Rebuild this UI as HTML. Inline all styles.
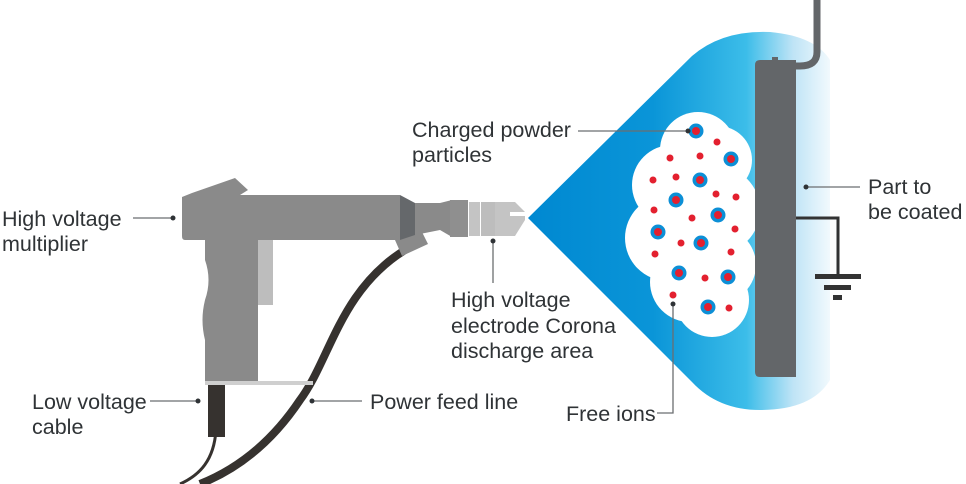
<!DOCTYPE html>
<html><head><meta charset="utf-8"><style>
html,body{margin:0;padding:0;background:#fff}
svg{display:block}
text{font-family:"Liberation Sans",sans-serif;font-size:21.5px;fill:#2f3336}
</style></head><body>
<svg width="966" height="484" viewBox="0 0 966 484" xmlns="http://www.w3.org/2000/svg">
<defs>
<linearGradient id="bl" x1="528" y1="0" x2="840" y2="0" gradientUnits="userSpaceOnUse">
<stop offset="0" stop-color="#0088d1"/>
<stop offset="0.4" stop-color="#0a95d8"/>
<stop offset="0.7" stop-color="#3cbde9"/>
<stop offset="0.85" stop-color="#bfe4f6"/>
<stop offset="1" stop-color="#ffffff"/>
</linearGradient>
</defs>
<path d="M528,218 L692,56 Q722,30 770,32 Q815,36 830,60 L830,380 Q812,410 760,410 Q718,410 692,382 Z" fill="url(#bl)"/>
<g fill="#fff">
<circle cx="698" cy="150" r="38"/>
<circle cx="672" cy="185" r="40"/>
<circle cx="668" cy="238" r="43"/>
<circle cx="690" cy="282" r="40"/>
<circle cx="712" cy="300" r="37"/>
<circle cx="716" cy="210" r="44"/>
<circle cx="718" cy="160" r="34"/>
<circle cx="718" cy="265" r="38"/>
</g>
<g fill="#0c8fd6">
<circle cx="696" cy="131" r="7.5"/><circle cx="731" cy="159" r="7.5"/><circle cx="700" cy="180" r="7.5"/><circle cx="676" cy="200" r="7.5"/><circle cx="718" cy="215" r="7.5"/><circle cx="658" cy="232" r="7.5"/><circle cx="701" cy="243" r="7.5"/><circle cx="679" cy="273" r="7.5"/><circle cx="728" cy="277" r="7.5"/><circle cx="708" cy="307" r="7.5"/>
</g>
<g fill="#e3202f">
<circle cx="696" cy="131" r="4"/><circle cx="731" cy="159" r="4"/><circle cx="700" cy="180" r="4"/><circle cx="676" cy="200" r="4"/><circle cx="718" cy="215" r="4"/><circle cx="658" cy="232" r="4"/><circle cx="701" cy="243" r="4"/><circle cx="679" cy="273" r="4"/><circle cx="728" cy="277" r="4"/><circle cx="708" cy="307" r="4"/>
<circle cx="717" cy="142" r="3.5"/><circle cx="670" cy="158" r="3.5"/><circle cx="700" cy="156" r="3.5"/><circle cx="653" cy="180" r="3.5"/><circle cx="676" cy="177" r="3.5"/><circle cx="716" cy="194" r="3.5"/><circle cx="736" cy="197" r="3.5"/><circle cx="654" cy="210" r="3.5"/><circle cx="692" cy="218" r="3.5"/><circle cx="735" cy="229" r="3.5"/><circle cx="655" cy="254" r="3.5"/><circle cx="681" cy="243" r="3.5"/><circle cx="731" cy="252" r="3.5"/><circle cx="673" cy="295" r="3.5"/><circle cx="705" cy="278" r="3.5"/><circle cx="729" cy="308" r="3.5"/>
</g>
<path d="M817,0 L817,52 Q817,66 800,66 L790,66" fill="none" stroke="#636669" stroke-width="7"/>
<rect x="772" y="57" width="6" height="6" fill="#636669"/>
<path d="M760,60 L796,60 L796,377 L760,377 Q755,377 755,372 L755,65 Q755,60 760,60 Z" fill="#636669"/>
<path d="M796,218 L838,218 L838,276" fill="none" stroke="#333" stroke-width="3"/>
<rect x="815" y="274" width="46" height="5" fill="#333"/>
<rect x="824" y="285" width="27" height="5" fill="#333"/>
<rect x="833" y="295" width="9" height="5" fill="#333"/>
<path d="M405,250 C340,290 330,360 300,400 C270,445 235,470 200,484" fill="none" stroke="#36322f" stroke-width="8"/>
<path d="M216,430 C214,460 200,475 180,484" fill="none" stroke="#36322f" stroke-width="3"/>
<rect x="208" y="385" width="17" height="52" fill="#36322f"/>
<rect x="258" y="238" width="15" height="67" fill="#bdbdbd"/>
<path d="M205,240 L258,240 L258,383 L205,383 L205,340 Q200,320 205,300 Q212,280 205,260 Z" fill="#8a8a8a"/>
<rect x="205" y="381" width="108" height="4" fill="#cfcfcf"/>
<path d="M395,240 L420,228 L428,244 L402,256 Z" fill="#8a8a8a"/>
<path d="M182,197 L192,193 L235,178 L248,190 L240,195 L400,195 L400,240 L185,240 Q182,240 182,236 Z" fill="#8a8a8a"/>
<path d="M400,195 L415,203 L415,235 L400,240 Z" fill="#65686b"/>
<path d="M415,203 L440,203 L452,200 L452,237 L440,230 L415,235 Z" fill="#8a8a8a"/>
<rect x="450" y="200" width="18" height="37" fill="#8f8f8f"/>
<rect x="469" y="202" width="11" height="34" fill="#c4c4c4"/>
<rect x="481" y="202" width="14" height="34" fill="#bdbdbd"/>
<path d="M495,202 L515,202 L525,212 L510,212 L510,216 L525,216 L525,220 L515,236 L495,236 Z" fill="#c4c4c4"/>
<g stroke="#6b6e70" stroke-width="1.3" fill="none">
<line x1="133" y1="218" x2="173" y2="218"/>
<line x1="578" y1="131" x2="688" y2="131"/>
<line x1="806" y1="187" x2="860" y2="187"/>
<line x1="493" y1="241" x2="493" y2="283"/>
<line x1="150" y1="401" x2="198" y2="401"/>
<line x1="312" y1="401" x2="362" y2="401"/>
<path d="M657,413 L673,413 L673,304"/>
</g>
<g fill="#2f3336">
<circle cx="173" cy="218" r="2.5"/><circle cx="688" cy="131" r="2.5"/><circle cx="806" cy="187" r="2.5"/><circle cx="493" cy="241" r="2.5"/><circle cx="198" cy="401" r="2.5"/><circle cx="312" cy="401" r="2.5"/><circle cx="673" cy="304" r="2.5"/>
</g>
<text x="2" y="226">High voltage</text>
<text x="2" y="251">multiplier</text>
<text x="412" y="137">Charged powder</text>
<text x="412" y="162">particles</text>
<text x="868" y="194">Part to</text>
<text x="868" y="219">be coated</text>
<text x="451" y="307">High voltage</text>
<text x="451" y="333">electrode Corona</text>
<text x="451" y="358">discharge area</text>
<text x="32" y="409">Low voltage</text>
<text x="32" y="434">cable</text>
<text x="370" y="409">Power feed line</text>
<text x="566" y="421">Free ions</text>
</svg>
</body></html>
